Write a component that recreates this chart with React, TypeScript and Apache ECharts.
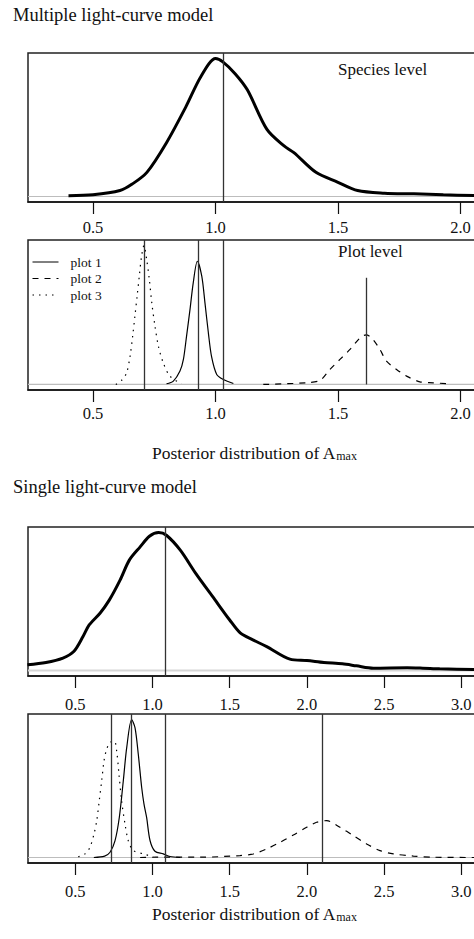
import React, { useEffect, useRef } from 'react';
import * as echarts from 'echarts';

const FONT = '"Liberation Serif", "Times New Roman", Times, serif';

// ---- axes ----
const multTicks = [0.5, 1.0, 1.5, 2.0];
const singleTicks = [0.5, 1.0, 1.5, 2.0, 2.5, 3.0];
const multRange = [0.2347, 2.1776];
const singleRange = [0.1937, 3.2766];
const yRange = [-0.04, 1.04];

// ---- Multiple light-curve model: species level ----
const multSpeciesX = [0.40, 0.50, 0.61, 0.66, 0.72, 0.80, 0.88, 0.94, 1.00, 1.03, 1.08, 1.13, 1.21, 1.28, 1.32, 1.41, 1.50, 1.58, 1.69, 1.81, 1.93, 2.06];
const multSpeciesY = [0.005, 0.012, 0.043, 0.09, 0.175, 0.39, 0.653, 0.868, 1.0, 0.976, 0.89, 0.773, 0.486, 0.366, 0.318, 0.175, 0.103, 0.043, 0.024, 0.019, 0.012, 0.007];
const multSpeciesMean = 1.028;

// ---- Multiple light-curve model: plot level ----
const multPlot1X = [0.80, 0.828, 0.855, 0.869, 0.882, 0.896, 0.909, 0.926, 0.944, 0.957, 0.971, 0.984, 1.005, 1.032, 1.073];
const multPlot1Y = [0.005, 0.024, 0.096, 0.18, 0.35, 0.54, 0.73, 0.887, 0.78, 0.587, 0.37, 0.2, 0.072, 0.036, 0.007];
const multPlot2X = [1.195, 1.372, 1.427, 1.467, 1.508, 1.549, 1.59, 1.615, 1.64, 1.671, 1.698, 1.739, 1.78, 1.834, 1.889, 1.95];
const multPlot2Y = [0.0, 0.012, 0.03, 0.108, 0.18, 0.252, 0.335, 0.357, 0.33, 0.252, 0.168, 0.108, 0.06, 0.019, 0.012, 0.004];
const multPlot3X = [0.593, 0.617, 0.637, 0.651, 0.662, 0.671, 0.68, 0.689, 0.698, 0.708, 0.719, 0.73, 0.74, 0.753, 0.767, 0.787, 0.814, 0.862];
const multPlot3Y = [0.0, 0.03, 0.083, 0.2, 0.35, 0.49, 0.635, 0.78, 0.92, 1.0, 0.9, 0.755, 0.587, 0.42, 0.275, 0.155, 0.06, 0.005];
const multPlotMeans = [0.929, 1.617, 0.711];
const multPlot2LineTop = 0.768;

// ---- Single light-curve model: species level ----
const singleSpeciesX = [0.19, 0.31, 0.42, 0.49, 0.55, 0.59, 0.66, 0.72, 0.79, 0.85, 0.92, 0.98, 1.04, 1.09, 1.18, 1.28, 1.39, 1.50, 1.57, 1.65, 1.74, 1.89, 2.00, 2.11, 2.23, 2.32, 2.43, 2.65, 2.75, 2.86, 3.08, 3.28];
const singleSpeciesY = [0.041, 0.058, 0.09, 0.137, 0.246, 0.33, 0.415, 0.51, 0.655, 0.8, 0.896, 0.973, 1.0, 0.98, 0.872, 0.704, 0.535, 0.366, 0.27, 0.222, 0.173, 0.082, 0.072, 0.058, 0.048, 0.034, 0.017, 0.02, 0.017, 0.012, 0.007, 0.005];
const singleSpeciesMean = 1.081;

// ---- Single light-curve model: plot level ----
const singlePlot1X = [0.62, 0.69, 0.725, 0.757, 0.785, 0.811, 0.833, 0.865, 0.887, 0.908, 0.93, 0.945, 0.962, 0.984, 1.016, 1.07, 1.113, 1.18];
const singlePlot1Y = [0.0, 0.01, 0.038, 0.12, 0.29, 0.556, 0.796, 1.0, 0.94, 0.748, 0.507, 0.387, 0.29, 0.123, 0.045, 0.026, 0.007, 0.0];
const singlePlot2X = [0.92, 1.1, 1.31, 1.567, 1.653, 1.74, 1.826, 1.912, 1.999, 2.063, 2.128, 2.214, 2.3, 2.387, 2.473, 2.56, 2.69, 2.819, 3.08, 3.28];
const singlePlot2Y = [0.0, 0.003, 0.002, 0.014, 0.026, 0.062, 0.11, 0.163, 0.219, 0.255, 0.267, 0.219, 0.159, 0.098, 0.05, 0.026, 0.01, 0.002, 0.0, 0.0];
const singlePlot3X = [0.519, 0.563, 0.595, 0.621, 0.639, 0.655, 0.671, 0.686, 0.703, 0.725, 0.753, 0.768, 0.783, 0.8, 0.822, 0.843, 0.876, 0.94, 1.005];
const singlePlot3Y = [0.005, 0.026, 0.074, 0.17, 0.267, 0.41, 0.556, 0.7, 0.784, 0.832, 0.844, 0.772, 0.603, 0.41, 0.242, 0.123, 0.05, 0.026, 0.005];
const singlePlotMeans = [0.863, 2.096, 0.731];

const plotNames = ['plot 1', 'plot 2', 'plot 3'];

const zip = (xs: number[], ys: number[]) => xs.map((x, i) => [x, ys[i]]);

const DASH = [6, 6];
const DOT = [1.5, 5];
const VLINE = { color: '#333', width: 1.3, type: 'solid' as const };

function mkGrid(top: number, height: number) {
  return {
    left: 28, right: -30, top, height,
    show: true, borderColor: '#222', borderWidth: 1.5, backgroundColor: 'transparent',
    outerBoundsMode: 'none',
    containLabel: false,
  };
}

function mkX(gridIndex: number, range: number[], ticks: number[], margin: number) {
  return {
    type: 'value', gridIndex, min: range[0], max: range[1],
    splitLine: { show: false },
    axisLine: { show: true, onZero: false, lineStyle: { color: '#111', width: 1.6 } },
    axisTick: { show: true, customValues: ticks, length: 12, lineStyle: { color: '#111', width: 1.2 } },
    axisLabel: {
      show: true, customValues: ticks, margin, fontSize: 16.5, fontFamily: FONT, color: '#111',
      formatter: (v: number) => v.toFixed(1),
    },
  };
}

function mkY(gridIndex: number) {
  return { type: 'value', gridIndex, min: yRange[0], max: yRange[1], show: false, splitLine: { show: false } };
}

function baseline(idx: number, range: number[], width = 1.2, color = '#bdbdbd') {
  return {
    type: 'line', name: 'baseline' + idx, xAxisIndex: idx, yAxisIndex: idx,
    data: [[range[0], 0], [range[1], 0]],
    symbol: 'none', silent: true, z: 1,
    lineStyle: { color, width },
    emphasis: { disabled: true },
  };
}

function curve(name: string, idx: number, xs: number[], ys: number[], width: number, dash: any, marks: any[]) {
  return {
    type: 'line', name, xAxisIndex: idx, yAxisIndex: idx,
    data: zip(xs, ys),
    symbol: 'none', smooth: 0.3, z: 3,
    itemStyle: { color: '#000' },
    lineStyle: { color: '#000', width, type: dash },
    emphasis: { disabled: true },
    markLine: marks.length ? {
      silent: true, symbol: ['none', 'none'], label: { show: false },
      lineStyle: VLINE, data: marks,
    } : undefined,
  };
}

const subTitle = (y: number) => ({
  type: 'text', x: 152, y, style: {
    text: '{a|Posterior distribution of A}{b|max}', align: 'left', verticalAlign: 'middle',
    rich: {
      a: { fontSize: 17.5, fontFamily: FONT, fill: '#111', lineHeight: 20, verticalAlign: 'bottom' },
      b: { fontSize: 12, fontFamily: FONT, fill: '#111', lineHeight: 12, verticalAlign: 'bottom' },
    },
  },
});

export default function App() {
  const ref = useRef<HTMLDivElement>(null);
  useEffect(() => {
    const chart = echarts.init(ref.current!, null, { renderer: 'svg' });
    const option: any = {
      animation: false,
      backgroundColor: '#fff',
      textStyle: { fontFamily: FONT },
      grid: [mkGrid(53, 149), mkGrid(240, 150), mkGrid(527, 149), mkGrid(714, 149)],
      xAxis: [
        mkX(0, multRange, multTicks, 17),
        mkX(1, multRange, multTicks, 15),
        mkX(2, singleRange, singleTicks, 20),
        mkX(3, singleRange, singleTicks, 20),
      ],
      yAxis: [mkY(0), mkY(1), mkY(2), mkY(3)],
      legend: {
        data: plotNames, orient: 'vertical', left: 32, top: 255, padding: 0,
        itemWidth: 26, itemHeight: 14, itemGap: 2.5, selectedMode: false,
        itemStyle: { opacity: 0 },
        lineStyle: { width: 1 },
        textStyle: { fontSize: 13.5, fontFamily: FONT, color: '#111', padding: [0, 0, 0, 7] },
      },
      series: [
        baseline(0, multRange),
        baseline(1, multRange),
        baseline(2, singleRange, 2, '#d6d6d6'),
        baseline(3, singleRange),
        curve('species multiple', 0, multSpeciesX, multSpeciesY, 3, 'solid', [{ xAxis: multSpeciesMean }]),
        curve(plotNames[0], 1, multPlot1X, multPlot1Y, 1.2, 'solid', [{ xAxis: multPlotMeans[0] }, { xAxis: multSpeciesMean }]),
        curve(plotNames[1], 1, multPlot2X, multPlot2Y, 1.2, DASH, [[{ coord: [multPlotMeans[1], 0] }, { coord: [multPlotMeans[1], multPlot2LineTop] }]]),
        curve(plotNames[2], 1, multPlot3X, multPlot3Y, 1.2, DOT, [{ xAxis: multPlotMeans[2] }]),
        curve('species single', 2, singleSpeciesX, singleSpeciesY, 3, 'solid', [{ xAxis: singleSpeciesMean }]),
        curve(plotNames[0], 3, singlePlot1X, singlePlot1Y, 1.2, 'solid', [{ xAxis: singlePlotMeans[0] }, { xAxis: singleSpeciesMean }]),
        curve(plotNames[1], 3, singlePlot2X, singlePlot2Y, 1.2, DASH, [{ xAxis: singlePlotMeans[1] }]),
        curve(plotNames[2], 3, singlePlot3X, singlePlot3Y, 1.2, DOT, [{ xAxis: singlePlotMeans[2] }]),
      ],
      graphic: [
        { type: 'text', x: 13, y: 15, style: { text: 'Multiple light-curve model', fontSize: 18.5, fontFamily: FONT, fill: '#111', align: 'left', verticalAlign: 'middle' } },
        { type: 'text', x: 338, y: 69, style: { text: 'Species level', fontSize: 17, fontFamily: FONT, fill: '#111', align: 'left', verticalAlign: 'middle' } },
        { type: 'text', x: 338, y: 251, style: { text: 'Plot level', fontSize: 17, fontFamily: FONT, fill: '#111', align: 'left', verticalAlign: 'middle' } },
        subTitle(452),
        { type: 'text', x: 13, y: 487, style: { text: 'Single light-curve model', fontSize: 18.5, fontFamily: FONT, fill: '#111', align: 'left', verticalAlign: 'middle' } },
        subTitle(913),
      ],
    };
    chart.setOption(option);
    return () => chart.dispose();
  }, []);
  return <div ref={ref} style={{ position: 'absolute', left: 0, top: 0, width: 474, height: 939, background: '#fff' }} />;
}
